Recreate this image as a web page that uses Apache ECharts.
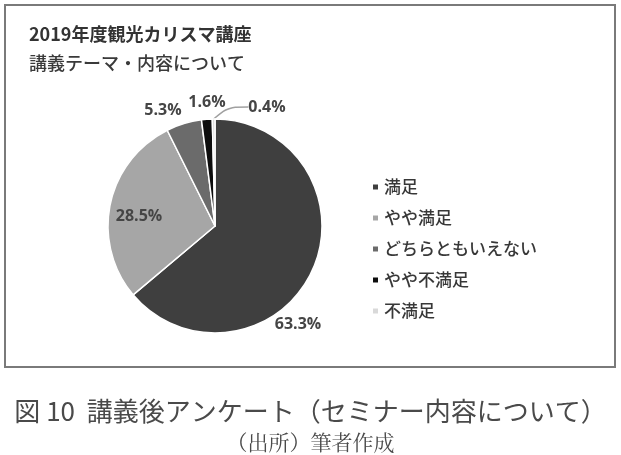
<!DOCTYPE html>
<html>
<head>
    <meta charset="utf-8">
    <title>講義後アンケート</title>
    <script src="https://cdn.jsdelivr.net/npm/echarts@6/dist/echarts.min.js"></script>
    <style>
        html, body { margin: 0; padding: 0; background: #fff; }
        #frame {
            position: absolute; left: 4px; top: 4px; width: 612px; height: 364px;
            border: 2px solid #7a7a7a; box-sizing: border-box;
        }
        #chart1 { width: 621px; height: 455px; position: absolute; left: 0; top: 0; }
    </style>
</head>
<body>
<div id="frame"></div>
<div id="chart1"></div>
<script type="text/javascript">
    // 回答区分と割合(%)
    var categories = ['満足', 'やや満足', 'どちらともいえない', 'やや不満足', '不満足'];
    var percents = [63.3, 28.5, 5.3, 1.6, 0.4];
    var colors = ['#3f3f3f', '#a6a6a6', '#6b6b6b', '#0d0d0d', '#d9d9d9'];

    var jp = '"Noto Sans CJK JP", "Open Sans", sans-serif';
    // ラベル位置 (描画ピクセル)
    var labelSpots = [[298, 324], [139, 216], [163, 110], [207, 102], [267, 107]];

    var pieData = categories.map(function (name, i) {
        var item = { name: name, value: percents[i], itemStyle: { color: colors[i] } };
        if (i === 4) {
            item.labelLine = { show: true, length: 10, length2: 20, smooth: true,
                lineStyle: { color: '#a0a0a0', width: 1.5 } };
        }
        return item;
    });

    var myChart1 = echarts.init(document.getElementById('chart1'));
    myChart1.setOption({
        animation: false,
        title: [
            { text: '2019年度観光カリスマ講座', left: 24, top: 20,
              textStyle: { fontFamily: jp, fontSize: 18, fontWeight: 'bold', color: '#333' } },
            { text: '講義テーマ・内容について', left: 24, top: 49,
              textStyle: { fontFamily: jp, fontSize: 18, fontWeight: 500, color: '#3a3a3a' } },
            { text: '図 10  講義後アンケート（セミナー内容について）', left: 'center', top: 393,
              textStyle: { fontFamily: jp, fontSize: 26, fontWeight: 'normal', color: '#4a4a4a' } },
            { text: '（出所）筆者作成', left: 'center', top: 427,
              textStyle: { fontFamily: '"Noto Serif CJK JP", "Noto Sans CJK JP", serif', fontSize: 21, fontWeight: 'normal', color: '#4a4a4a' } }
        ],
        legend: {
            orient: 'vertical',
            left: 366,
            top: 173,
            icon: 'rect',
            itemWidth: 7,
            itemHeight: 7,
            itemGap: 13,
            data: categories,
            textStyle: { fontFamily: jp, fontSize: 17, fontWeight: 500, color: '#383838', lineHeight: 18 }
        },
        series: [{
            type: 'pie',
            center: [215, 226],
            radius: 107,
            startAngle: 90,
            clockwise: true,
            itemStyle: { borderColor: '#fff', borderWidth: 1.5 },
            label: {
                show: true,
                position: 'outside',
                formatter: function (p) { return p.value.toFixed(1) + '%'; },
                fontFamily: '"Open Sans", sans-serif',
                fontSize: 16,
                fontWeight: 'bold',
                color: '#454545'
            },
            labelLine: { show: false },
            labelLayout: function (p) {
                var s = labelSpots[p.dataIndex];
                return { x: s[0], y: s[1], align: 'center', verticalAlign: 'middle' };
            },
            data: pieData
        }]
    });
</script>
</body>
</html>
